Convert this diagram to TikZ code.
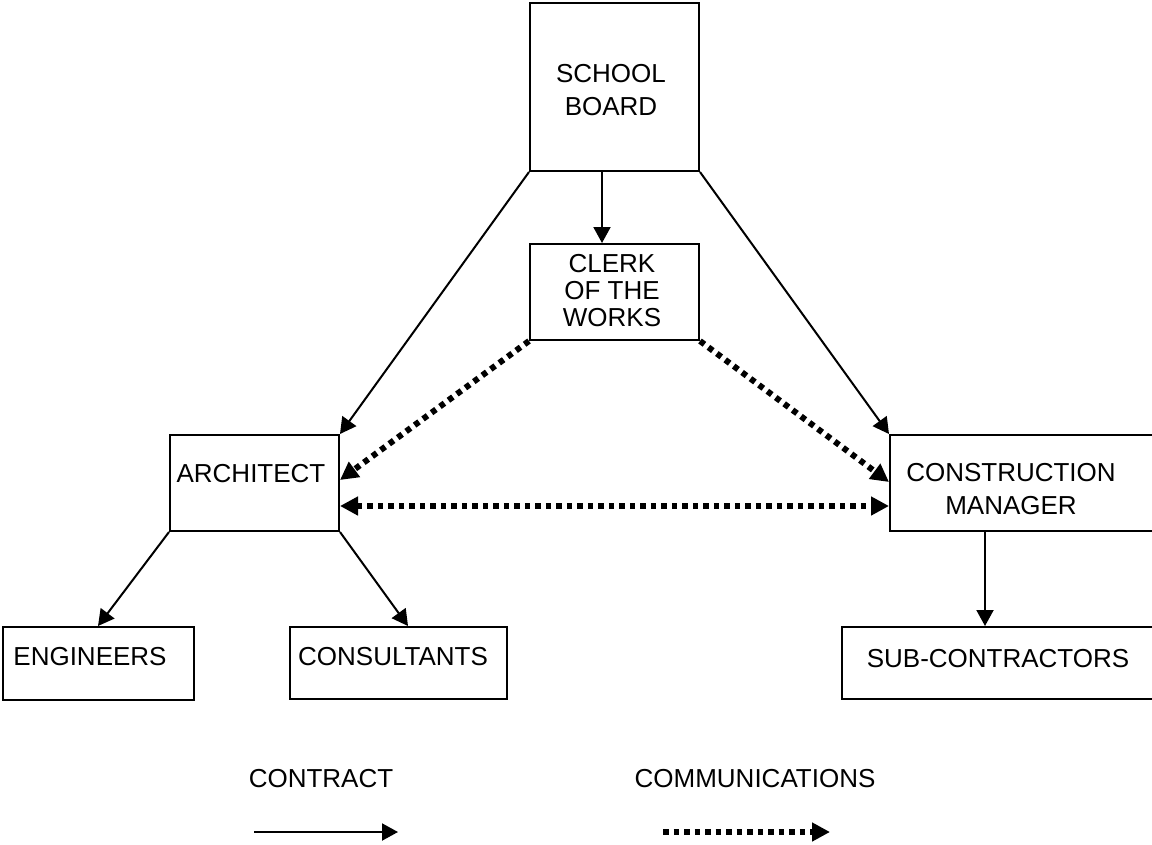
\documentclass[tikz,border=0pt]{standalone}
\usepackage{fontspec}
\setmainfont{Liberation Sans}
\usetikzlibrary{arrows.meta}
\begin{document}
\begin{tikzpicture}[x=1pt,y=-1pt,
  box/.style={draw,line width=2pt,anchor=north west,inner sep=0pt},
  lbl/.style={font=\fontsize{26}{33}\selectfont,align=center,inner sep=0pt},
  contract/.style={line width=2pt,-{Triangle[length=16pt,width=17pt]}},
  comm/.style={line width=6pt,dash pattern=on 5.5pt off 5pt,-{Triangle[length=18pt,width=18pt]}},
  commboth/.style={line width=6pt,dash pattern=on 5.5pt off 5pt,{Triangle[length=18pt,width=18pt]}-{Triangle[length=18pt,width=18pt]}}]
\useasboundingbox (0,0) rectangle (1152,844);
\clip (0,0) rectangle (1152,844);
% boxes
\node[box,minimum width=169pt,minimum height=168pt] (sb) at (529,2) {};
\node[box,minimum width=169pt,minimum height=96pt] (ck) at (529,243) {};
\node[box,minimum width=169pt,minimum height=96pt] (ar) at (169,434) {};
\node[box,minimum width=280pt,minimum height=96pt] (cm) at (889,434) {};
\node[box,minimum width=191pt,minimum height=73pt] (en) at (2,626) {};
\node[box,minimum width=217pt,minimum height=72pt] (co) at (289,626) {};
\node[box,minimum width=330pt,minimum height=72pt] (sc) at (841,626) {};
% texts
\node[lbl] (sbt) at (611,90) {SCHOOL\\BOARD};
\node[lbl,font=\fontsize{26}{27}\selectfont] (ckt) at (612,291) {CLERK\\OF THE\\WORKS};
\node[lbl] (art) at (251,474) {ARCHITECT};
\node[lbl] (cmt) at (1011,489) {CONSTRUCTION\\MANAGER};
\node[lbl] (ent) at (90,657) {ENGINEERS};
\node[lbl] (cot) at (393,657) {CONSULTANTS};
\node[lbl] (sct) at (998,659) {SUB-CONTRACTORS};
\node[lbl] (lg1) at (321,779) {CONTRACT};
\node[lbl] (lg2) at (755,779) {COMMUNICATIONS};
% connectors
\draw[contract] (sb.south west) -- (ar.north east);
\draw[contract] (sb.south east) -- (cm.north west);
\draw[contract] (sb.south west -| 602,0) -- (ck.north west -| 602,0);
\draw[comm] (ck.south west) -- (ar.north east |- 0,480);
\draw[comm] (ck.south east) -- (cm.north west |- 0,482);
\draw[commboth] (ar.north east |- 0,506) -- (cm.north west |- 0,506);
\draw[contract] (ar.south west) -- (en.north west -| 98,0);
\draw[contract] (ar.south east) -- (co.north west -| 408,0);
\draw[contract] (cm.south west -| 985,0) -- (sc.north west -| 985,0);
% legend
\coordinate (l1a) at (254,832);
\coordinate (l1b) at (398,832);
\coordinate (l2a) at (663,832);
\coordinate (l2b) at (830,832);
\draw[contract] (l1a) -- (l1b);
\draw[comm] (l2a) -- (l2b);
\end{tikzpicture}
\end{document}
